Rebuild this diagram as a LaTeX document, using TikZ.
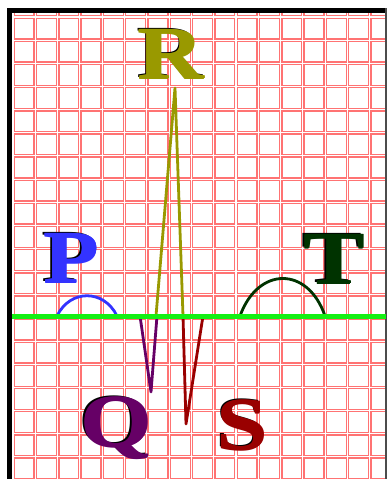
\documentclass[tikz,border=0pt]{standalone}
\usepackage{fontspec}
\setmainfont{Liberation Serif}
\usepackage{tikz}
\usetikzlibrary{positioning}

\definecolor{gridred}{RGB}{255,115,115}
\definecolor{basegreen}{RGB}{20,240,20}
\definecolor{pblue}{RGB}{51,51,255}
\definecolor{rolive}{RGB}{153,153,0}
\definecolor{qpurple}{RGB}{102,0,102}
\definecolor{sred}{RGB}{153,0,0}
\definecolor{tgreen}{RGB}{0,51,0}

\begin{document}
\begin{tikzpicture}[x=1pt,y=-1pt,
      gridln/.style={draw=gridred,line width=3.8pt},
      gridmid/.style={draw=white,line width=1.1pt},
      base/.style={draw=basegreen,line width=5pt},
      wave/.style={line width=2.8pt,line join=round},
      lab/.style={inner sep=0pt,font=\bfseries\fontsize{75}{75}\selectfont}]
    \useasboundingbox (0,0) rectangle (387,479);
    % paper grid, double lines
    \begin{scope}
      \clip (12,13) rectangle (386,479);
      \foreach \i in {0,...,16} \draw[gridln] (13+22.3*\i,13) -- (13+22.3*\i,479);
      \foreach \j in {0,...,20} \draw[gridln] (12,17+23.15*\j) -- (386,17+23.15*\j);
      \foreach \i in {0,...,16} \draw[gridmid] (13+22.3*\i,13) -- (13+22.3*\i,479);
      \foreach \j in {0,...,20} \draw[gridmid] (12,17+23.15*\j) -- (386,17+23.15*\j);
    \end{scope}
    % frame
    \fill[black] (7,8) rectangle (387,13);
    \fill[black] (7,8) rectangle (12,479);
    \draw[black!70,line width=1.5pt] (386,8) -- (386,479);
    % waves
    \draw[wave,pblue] (57,316) .. controls (70,289) and (104,289) .. (117,316);
    \draw[wave,qpurple] (140,316) -- (151,392) -- (157,316);
    \draw[wave,rolive] (156,316) -- (175,88) -- (183,316);
    \draw[wave,sred] (183,316) -- (186,424) -- (203,316);
    \draw[wave,tgreen] (240,316) .. controls (258,266) and (308,266) .. (325,316);
    \draw[base] (12,316) -- (386,316);
    % letters with shadow, set twice over for weight
    \foreach \nm/\px/\py/\col in {P/71/258/pblue,R/171/54/rolive,T/334/259/tgreen,Q/116/428/qpurple,S/242/425/sred}{
      \node[lab,text=black] at (\px-1.5,\py-1.2) {\scalebox{1.22}[1]{\nm}};
      \node[lab,text=\col] at (\px+0.9,\py) {\scalebox{1.22}[1]{\nm}};
      \node[lab,text=\col] at (\px,\py+0.6) {\scalebox{1.22}[1]{\nm}};
      \node[lab,text=\col] (lab\nm) at (\px,\py) {\scalebox{1.22}[1]{\nm}};
    }
\end{tikzpicture}
\end{document}
